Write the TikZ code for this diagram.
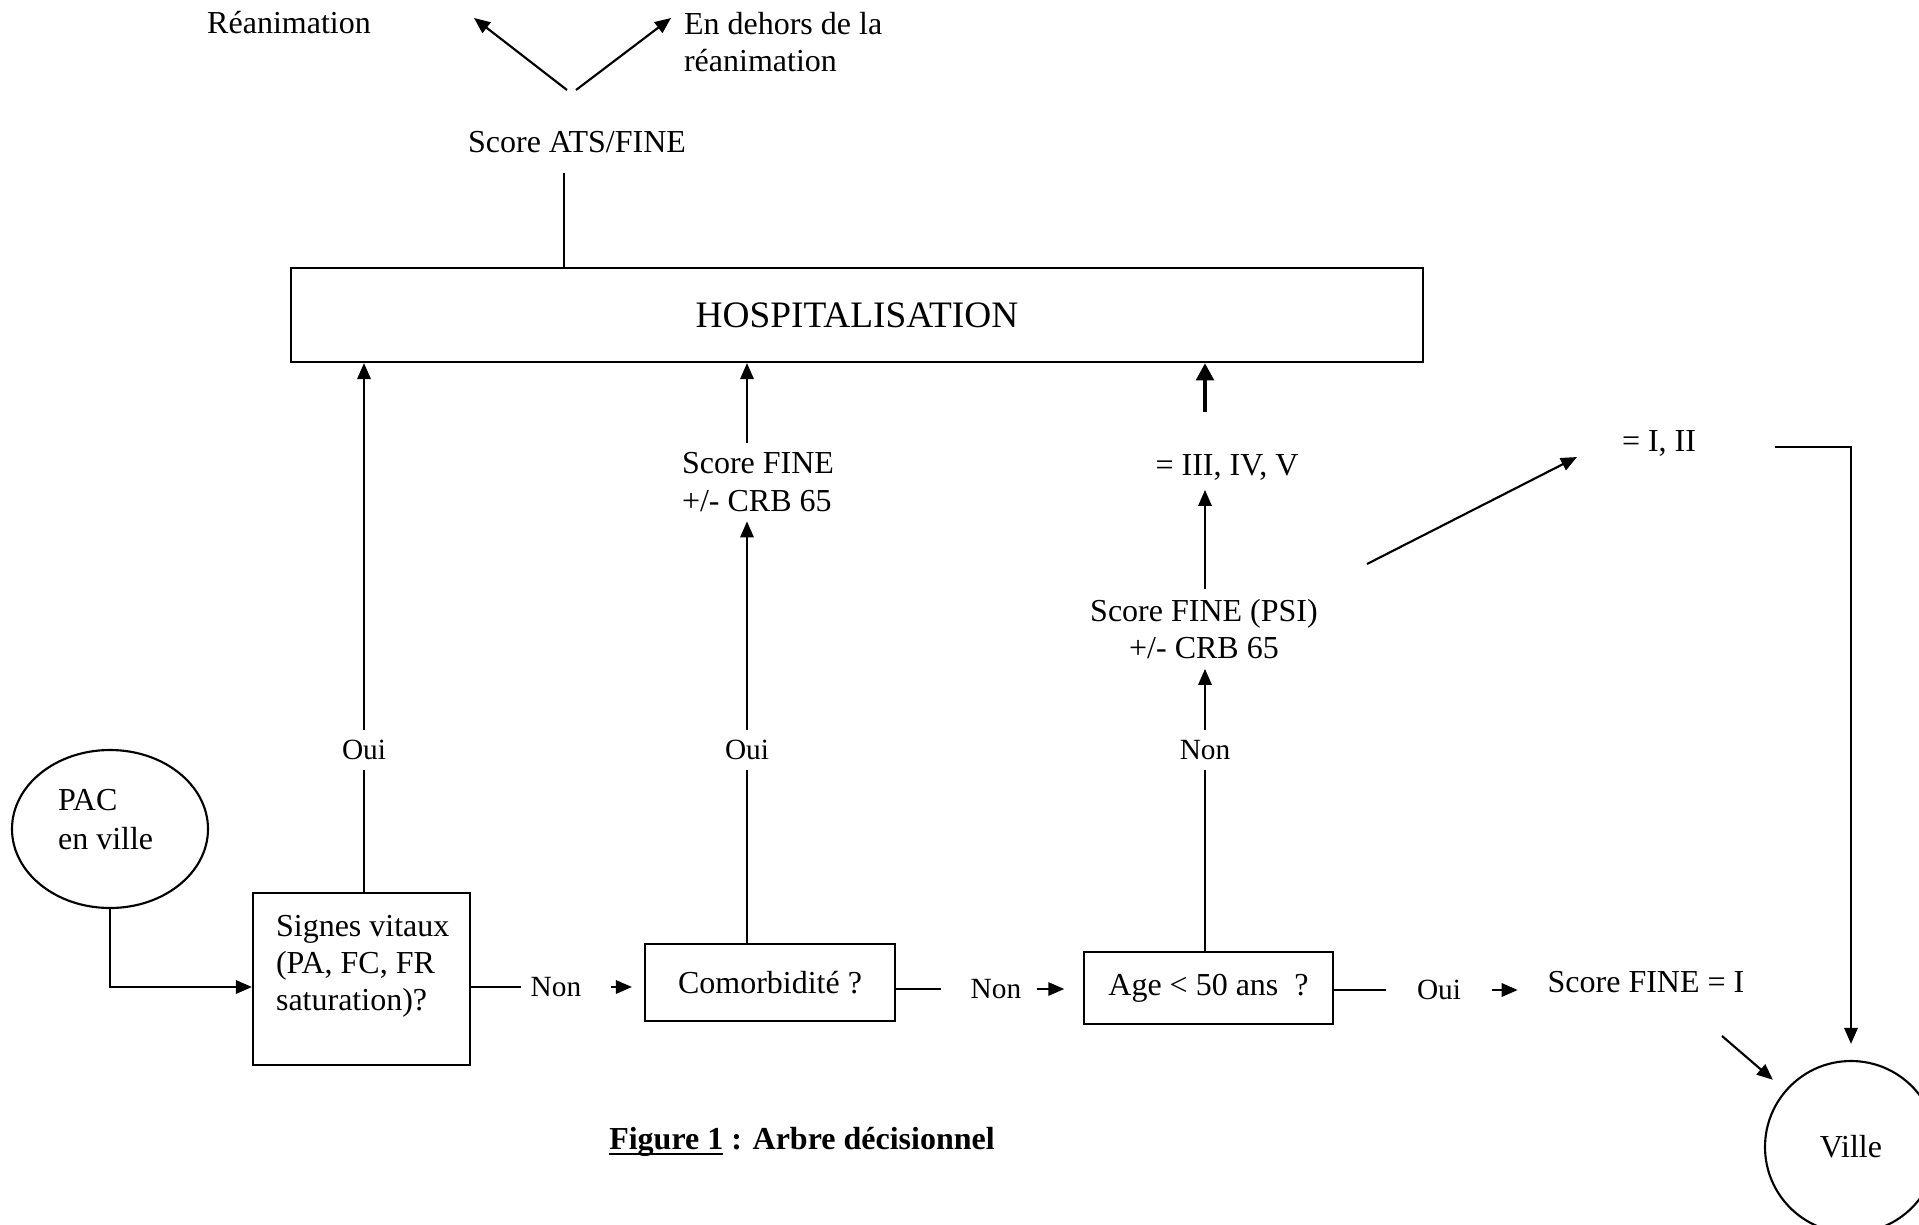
\documentclass[tikz,border=0pt]{standalone}
\usepackage{fontspec}
\setmainfont{Liberation Serif}
\usetikzlibrary{arrows.meta, shapes.geometric}
\def\u{0.375pt}
\newcommand\figul[1]{\setbox0\hbox{#1}\rlap{\rule[-2.2pt]{\wd0}{1.1pt}}\box0\relax}
\tikzset{
  every picture/.style={font=\fontsize{12}{14}\selectfont, line width=0.8pt},
  box/.style={draw, inner sep=0pt},
  arrow/.style={-{Triangle[length=6pt, width=5pt]}},
  bigarrow/.style={-{Triangle[length=6.5pt, width=6.5pt]}, line width=1.6pt},
  choice/.style={font=\fontsize{11}{13}\selectfont},
  title/.style={font=\fontsize{12}{14}\selectfont\bfseries},
}

\begin{document}
\begin{tikzpicture}[x=0.375pt, y=-0.375pt]
  \clip (0,0) rectangle (1919,1225);
  % top: choice of unit
  \node[anchor=base] (rea) at (289,33) {Réanimation};
  \node[anchor=north west, align=left, inner sep=0pt] (horsrea) at (683,11) {En dehors de la\\réanimation};
  \node[anchor=base] (ats) at (577,152) {Score ATS/FINE};
  \coordinate (forkL) at (567,90);
  \coordinate (forkR) at (576,90);
  \coordinate (tipL) at (474,18);
  \coordinate (tipR) at (671,18);
  \coordinate (atsfoot) at (564,173);
  \draw[arrow] (forkL) -- (tipL);
  \draw[arrow] (forkR) -- (tipR);
  \node[box, minimum width=1132*\u, minimum height=94*\u, font=\fontsize{14}{16}\selectfont] (hosp) at (857,315) {HOSPITALISATION};
  \draw (atsfoot) -- (atsfoot |- hosp.north);
  % bottom row
  \node[ellipse, draw, minimum width=196*\u, minimum height=158*\u, inner sep=0pt] (pac) at (110,829) {};
  \node[anchor=north west, align=left, inner sep=0pt, font=\fontsize{12}{14.6}\selectfont] (pactxt) at (57,788) {PAC\\en ville};
  \node[box, minimum width=217*\u, minimum height=172*\u] (signes) at (361.5,979) {};
  \node[anchor=north west, align=left, inner sep=0pt] (signestxt) at (275,914) {Signes vitaux\\(PA, FC, FR\\saturation)?};
  \node[choice] (nonA) at (556,987) {Non};
  \node[box, minimum width=250*\u, minimum height=77*\u] (comor) at (770,982.5) {Comorbidité ?};
  \node[choice] (nonB) at (996,989) {Non};
  \node[box, minimum width=249*\u, minimum height=72*\u] (age) at (1208.5,988) {Age < 50 ans\ \ ?};
  \node[choice] (ouiD) at (1439,990) {Oui};
  \node (finei) at (1646,982) {Score FINE = I};
  \node[circle, draw, minimum size=172*\u, inner sep=0pt] (ville) at (1851,1147) {Ville};
  % columns
  \node[choice] (ouiA) at (364,750) {Oui};
  \node[choice] (ouiB) at (747,750) {Oui};
  \node[choice] (nonC) at (1205,750) {Non};
  \node[align=left] (fine) at (758,482) {Score FINE\\+/- CRB 65};
  \node[align=center] (psi) at (1204,629) {Score FINE (PSI)\\+/- CRB 65};
  \node (iii) at (1227,467) {= III, IV, V};
  \node (ii) at (1659,443) {= I, II};
  \coordinate (psiout) at (1367,564);
  \coordinate (iitip) at (1577,457);
  \coordinate (iiout) at (1775,447);
  \coordinate (fineout) at (1722,1036);
  % connectors
  \draw[arrow] (pac.south) |- (signes.west |- nonA);
  \draw (signes.east |- nonA) -- (nonA);
  \draw[arrow, shorten <=7.5pt, shorten >=4.5pt] (nonA) -- (comor.west |- nonA);
  \draw[shorten >=7.5pt] (comor.east |- nonB) -- (nonB);
  \draw[arrow, shorten <=2pt, shorten >=7pt] (nonB) -- (age.west |- nonB);
  \draw[shorten >=8pt] (age.east |- ouiD) -- (ouiD);
  \draw[arrow, shorten <=8pt, shorten >=7.5pt] (ouiD) -- (finei.west |- ouiD);
  \draw (signes.north -| ouiA) -- (ouiA);
  \draw[arrow] (ouiA) -- (hosp.south -| ouiA);
  \draw (comor.north -| ouiB) -- (ouiB);
  \draw[arrow] (ouiB) -- (fine.south -| ouiB);
  \draw[arrow] (fine.north -| ouiB) -- (hosp.south -| ouiB);
  \draw (age.north -| nonC) -- (nonC);
  \draw[arrow] (nonC) -- (psi.south -| nonC);
  \draw[arrow] (psi.north -| nonC) -- (iii.south -| nonC);
  \draw[bigarrow, shorten <=12pt] (iii.north -| nonC) -- (hosp.south -| nonC);
  \draw[arrow] (psiout) -- (iitip);
  \draw[arrow, shorten >=6pt] (iiout) -| (ville.north);
  \draw[arrow, shorten >=6pt] (fineout) -- (ville);
  \node[title] (caption) at (802,1142) {\figul{Figure 1} : Arbre décisionnel};
\end{tikzpicture}
\end{document}
